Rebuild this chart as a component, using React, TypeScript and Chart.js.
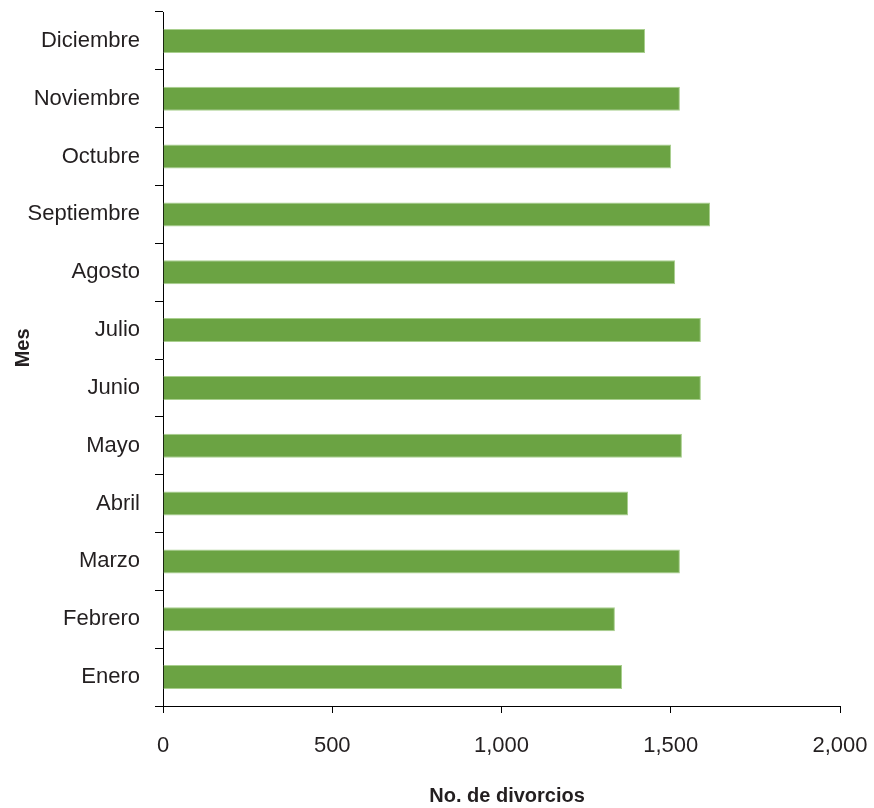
import React, { useEffect, useRef } from "react";
import { Chart, registerables } from "chart.js";

Chart.register(...registerables);

const months = [
  "Enero",
  "Febrero",
  "Marzo",
  "Abril",
  "Mayo",
  "Junio",
  "Julio",
  "Agosto",
  "Septiembre",
  "Octubre",
  "Noviembre",
  "Diciembre",
];
const divorces = [1356, 1335, 1527, 1374, 1533, 1589, 1589, 1513, 1616, 1501, 1527, 1424];
const xMin = 0;
const xMax = 2000;
const xStep = 500;
const xTitle = "No. de divorcios";
const yTitle = "Mes";

export default function App() {
  const canvasRef = useRef<HTMLCanvasElement | null>(null);

  useEffect(() => {
    if (!canvasRef.current) return;
    const textColor = "#231f20";
    const font = "'Liberation Sans', Arial, sans-serif";
    const chart = new Chart(canvasRef.current, {
      type: "bar",
      data: {
        labels: months,
        datasets: [
          {
            data: divorces,
            backgroundColor: "#6ba343",
            borderColor: "#a9cf8e",
            borderWidth: 1,
            categoryPercentage: 1,
            barPercentage: 0.415,
          },
        ],
      },
      options: {
        indexAxis: "y",
        animation: false,
        responsive: true,
        maintainAspectRatio: false,
        layout: { padding: { top: 12, right: 34, left: 0, bottom: 0 } },
        plugins: { legend: { display: false }, tooltip: { enabled: false } },
        scales: {
          x: {
            min: xMin,
            max: xMax,
            ticks: {
              stepSize: xStep,
              color: textColor,
              font: { family: font, size: 22 },
              padding: 20,
              callback: (v: any) => Number(v).toLocaleString("en-US"),
            },
            grid: {
              drawOnChartArea: false,
              drawTicks: true,
              tickLength: 7,
              color: "#000",
            },
            border: { display: true, color: "#000", width: 1 },
            title: {
              display: true,
              text: "  " + xTitle,
              color: textColor,
              font: { family: font, size: 20, weight: "bold" },
              padding: { top: 0, bottom: 0 },
            },
            afterFit: (s: any) => {
              s.height = 102;
              s.paddingLeft = 0;
              s.paddingRight = 0;
            },
          },
          y: {
            reverse: true,
            ticks: {
              color: textColor,
              font: { family: font, size: 22 },
              padding: 15,
            },
            grid: {
              offset: true,
              drawOnChartArea: false,
              drawTicks: true,
              tickLength: 8,
              color: "#000",
            },
            border: { display: true, color: "#000", width: 1 },
            title: {
              display: true,
              text: "    " + yTitle,
              color: textColor,
              font: { family: font, size: 20, weight: "bold" },
              padding: { top: 11, bottom: 0 },
            },
            afterFit: (s: any) => {
              s.width = 163;
              s.paddingTop = 0;
              s.paddingBottom = 0;
            },
          },
        },
      },
    });
    return () => chart.destroy();
  }, []);

  return (
    <div style={{ position: "absolute", left: 0, top: 0, width: 874, height: 808, background: "#fff" }}>
      <canvas ref={canvasRef} />
    </div>
  );
}
